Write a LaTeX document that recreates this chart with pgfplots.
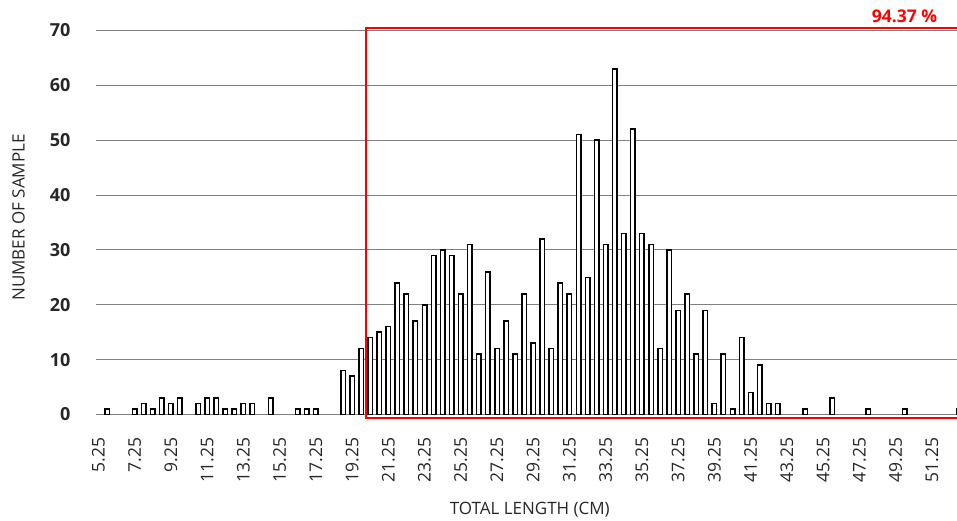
\documentclass[border=0pt]{standalone}
\usepackage{fontspec}
\setmainfont{Open Sans}
\usepackage{pgfplots}
\pgfplotsset{compat=1.18}
\begin{document}
\begin{tikzpicture}
\begin{axis}[
  at={(0pt,0pt)}, anchor=south west,
  scale only axis, width=861.3pt, height=384pt,
  xmin=5.1, xmax=52.64, ymin=0, ymax=70,
  clip=false,
  axis line style={draw=none},
  major tick length=0pt,
  ymajorgrids, grid style={draw=black!50, line width=1.1pt},
  ytick={0,10,20,30,40,50,60,70},
  yticklabel style={font=\fontsize{18}{20}\selectfont\bfseries, text=black!85, anchor=east, inner sep=0pt, xshift=-25pt},
  /pgf/number format/assume math mode=true,
  xtick={5.25,7.25,9.25,11.25,13.25,15.25,17.25,19.25,21.25,23.25,25.25,27.25,29.25,31.25,33.25,35.25,37.25,39.25,41.25,43.25,45.25,47.25,49.25,51.25},
  xticklabels={5.25,7.25,9.25,11.25,13.25,15.25,17.25,19.25,21.25,23.25,25.25,27.25,29.25,31.25,33.25,35.25,37.25,39.25,41.25,43.25,45.25,47.25,49.25,51.25},
  xticklabel style={yshift=-23pt, font=\fontsize{17.5}{20}\selectfont, text=black!85, rotate=90, anchor=east, inner sep=0pt},
  xlabel={TOTAL LENGTH (CM)},
  xlabel style={font=\fontsize{17}{20}\selectfont, text=black!85, at={(axis description cs:0.504,-0.247)}, anchor=center},
  ylabel={NUMBER OF SAMPLE},
  ylabel style={font=\fontsize{17}{20}\selectfont, text=black!85, at={(axis description cs:-0.0896,0.513)}, anchor=center, rotate=0},
]
\addplot[ybar, bar width=4.5pt, draw=black, fill=white, line width=1.5pt] coordinates {
(5.75,1) (7.25,1) (7.75,2) (8.25,1) (8.75,3) (9.25,2) (9.75,3)
(10.75,2) (11.25,3) (11.75,3) (12.25,1) (12.75,1) (13.25,2) (13.75,2)
(14.75,3) (16.25,1) (16.75,1) (17.25,1)
(18.75,8) (19.25,7) (19.75,12) (20.25,14) (20.75,15) (21.25,16) (21.75,24)
(22.25,22) (22.75,17) (23.25,20) (23.75,29) (24.25,30) (24.75,29) (25.25,22)
(25.75,31) (26.25,11) (26.75,26) (27.25,12) (27.75,17) (28.25,11) (28.75,22)
(29.25,13) (29.75,32) (30.25,12) (30.75,24) (31.25,22) (31.75,51) (32.25,25)
(32.75,50) (33.25,31) (33.75,63) (34.25,33) (34.75,52) (35.25,33) (35.75,31)
(36.25,12) (36.75,30) (37.25,19) (37.75,22) (38.25,11) (38.75,19) (39.25,2)
(39.75,11) (40.25,1) (40.75,14) (41.25,4) (41.75,9) (42.25,2) (42.75,2)
(44.25,1) (45.75,3) (47.75,1) (49.75,1) (52.75,1)
};
\draw[draw=red, line width=1.8pt] (axis cs:52.78,70.4) -- (axis cs:20.0,70.4) -- (axis cs:20.0,-0.6) -- (axis cs:52.78,-0.6);
\node[anchor=east, text=red, font=\fontsize{17.5}{20}\selectfont\bfseries, inner sep=0pt] at (axis cs:51.55,72.6) {94.37 \%};
\end{axis}
\pgfresetboundingbox
\path[use as bounding box] (-95.7pt,-106.5pt) rectangle (861.3pt,414.5pt);
\end{tikzpicture}
\end{document}
